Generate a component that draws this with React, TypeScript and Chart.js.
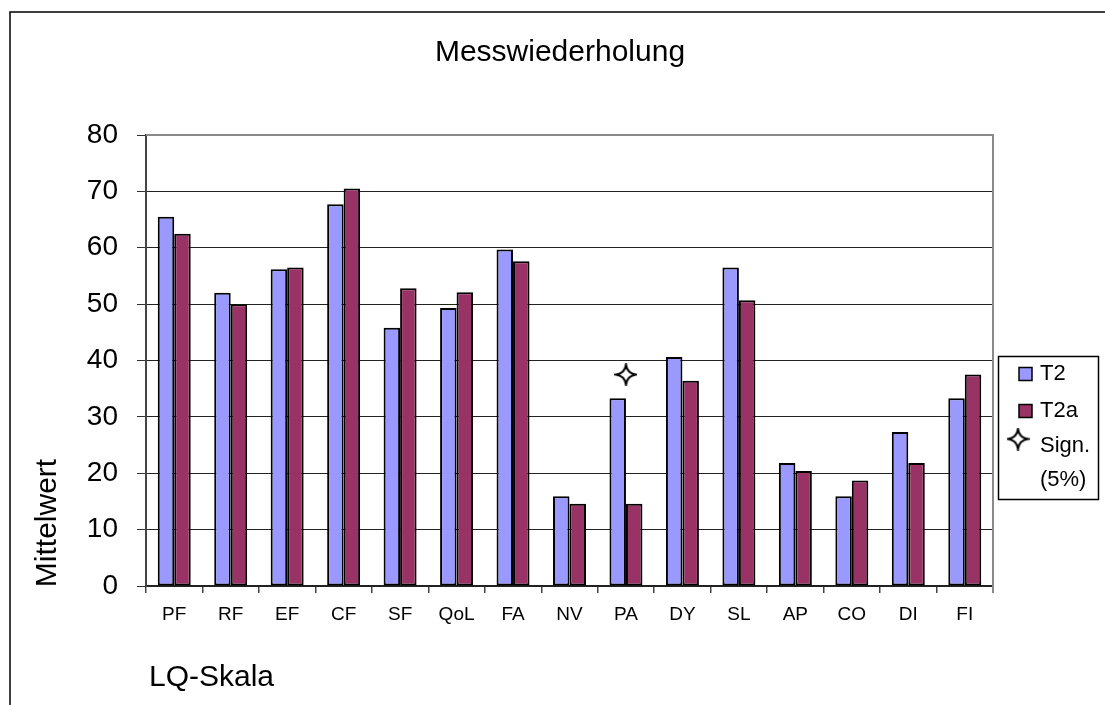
import React, { useEffect, useRef } from "react";
import { Chart, registerables } from "chart.js";

Chart.register(...registerables);

const chartTitle = "Messwiederholung";
const yTitle = "Mittelwert";
const xTitle = "LQ-Skala";
const categories = ["PF", "RF", "EF", "CF", "SF", "QoL", "FA", "NV", "PA", "DY", "SL", "AP", "CO", "DI", "FI"];
const t2Values = [65.5, 52.0, 56.2, 67.7, 45.8, 49.3, 59.7, 15.9, 33.3, 40.6, 56.5, 21.8, 15.9, 27.3, 33.3];
const t2aValues = [62.5, 50.0, 56.5, 70.5, 52.8, 52.1, 57.6, 14.6, 14.6, 36.4, 50.7, 20.4, 18.7, 21.8, 37.5];
const signValues = [null, null, null, null, null, null, null, null, 37.5, null, null, null, null, null, null];
const seriesLabels = ["T2", "T2a", "Sign. (5%)"];
const yMin = 0;
const yMax = 80;
const yStep = 10;

const FONT = "'Liberation Sans', Arial, sans-serif";
const BLUE = "#9999FF";
const MAROON = "#993366";

function makeStar(size: number): HTMLCanvasElement {
  const c = document.createElement("canvas");
  c.width = size;
  c.height = size;
  const g = c.getContext("2d")!;
  const m = size / 2;
  const r = size / 2 - 1.5;
  const k = r * 0.12;
  g.beginPath();
  g.moveTo(m, m - r);
  g.quadraticCurveTo(m + k, m - k, m + r, m);
  g.quadraticCurveTo(m + k, m + k, m, m + r);
  g.quadraticCurveTo(m - k, m + k, m - r, m);
  g.quadraticCurveTo(m - k, m - k, m, m - r);
  g.closePath();
  g.fillStyle = "#fff";
  g.fill();
  g.lineWidth = 2;
  g.strokeStyle = "#000";
  g.stroke();
  return c;
}

export default function App() {
  const ref = useRef<HTMLCanvasElement | null>(null);

  useEffect(() => {
    if (!ref.current) return;
    const star = makeStar(23);

    const deco = {
      id: "deco",
      afterDraw(chart: any) {
        const ctx = chart.ctx as CanvasRenderingContext2D;
        const area = chart.chartArea;
        ctx.save();
        // outer frame
        ctx.strokeStyle = "#000";
        ctx.lineWidth = 1.5;
        ctx.beginPath();
        ctx.moveTo(10, 706);
        ctx.lineTo(10, 12);
        ctx.lineTo(1106, 12);
        ctx.stroke();
        // plot top & right border
        ctx.strokeStyle = "#8a8a8a";
        ctx.lineWidth = 2;
        ctx.beginPath();
        ctx.moveTo(area.left, area.top);
        ctx.lineTo(area.right, area.top);
        ctx.lineTo(area.right, area.bottom + 7);
        ctx.stroke();
        // title
        ctx.fillStyle = "#000";
        ctx.font = `30px ${FONT}`;
        ctx.textAlign = "center";
        ctx.textBaseline = "middle";
        ctx.fillText(chartTitle, 560, 53);
        // x title
        ctx.textAlign = "left";
        ctx.fillText(xTitle, 149, 678);
        // y title
        ctx.save();
        ctx.translate(48, 523);
        ctx.rotate(-Math.PI / 2);
        ctx.textAlign = "center";
        ctx.fillText(yTitle, 0, 0);
        ctx.restore();
        // legend
        const ds = chart.data.datasets;
        ctx.fillStyle = "#fff";
        ctx.fillRect(998, 356, 101, 144);
        ctx.strokeStyle = "#000";
        ctx.lineWidth = 1.5;
        ctx.strokeRect(998.5, 356.5, 100, 143);
        ctx.font = `22px ${FONT}`;
        ctx.textAlign = "left";
        ctx.textBaseline = "middle";
        const rows = [374, 411];
        for (let i = 0; i < 2; i++) {
          const y = rows[i];
          ctx.fillStyle = ds[i].backgroundColor;
          ctx.fillRect(1019, y - 6.5, 13, 13);
          ctx.strokeStyle = "#000";
          ctx.lineWidth = 1.5;
          ctx.strokeRect(1019, y - 6.5, 13, 13);
          ctx.fillStyle = "#000";
          ctx.fillText(ds[i].label, 1040, y);
        }
        ctx.drawImage(star, 1018 - star.width / 2, 439 - star.height / 2);
        const parts = String(ds[2].label).split(" ");
        ctx.fillStyle = "#000";
        ctx.fillText(parts[0], 1040, 446);
        ctx.fillText(parts.slice(1).join(" "), 1040, 480);
        ctx.restore();
      },
    };

    const chart = new Chart(ref.current, {
      type: "bar",
      data: {
        labels: categories,
        datasets: [
          {
            label: seriesLabels[0],
            data: t2Values,
            backgroundColor: BLUE,
            borderColor: "#000",
            borderWidth: 2,
            borderSkipped: false,
            categoryPercentage: 0.584,
            barPercentage: 1.0,
            order: 2,
          },
          {
            label: seriesLabels[1],
            data: t2aValues,
            backgroundColor: MAROON,
            borderColor: "#000",
            borderWidth: 2,
            borderSkipped: false,
            categoryPercentage: 0.584,
            barPercentage: 1.0,
            order: 2,
          },
          {
            type: "line",
            label: seriesLabels[2],
            data: signValues,
            showLine: false,
            pointStyle: star,
            pointRadius: 10,
            order: 1,
          } as any,
        ],
      },
      options: {
        animation: false,
        responsive: false,
        maintainAspectRatio: false,
        layout: { padding: { top: 135, right: 112, left: 0, bottom: 0 } },
        plugins: {
          legend: { display: false },
          tooltip: { enabled: false },
          title: { display: false },
        },
        scales: {
          x: {
            offset: true,
            afterFit: (s: any) => {
              s.height = 119;
            },
            grid: {
              offset: true,
              drawOnChartArea: false,
              drawTicks: true,
              tickLength: 7,
              tickColor: "#444",
              lineWidth: 1.5,
            },
            border: { color: "#222", width: 1.5 },
            ticks: {
              color: "#000",
              font: { family: FONT, size: 19 },
              padding: 10,
              maxRotation: 0,
              autoSkip: false,
            },
          },
          y: {
            min: yMin,
            max: yMax,
            afterFit: (s: any) => {
              s.width = 146;
            },
            grid: {
              color: (c: any) => (c.tick && c.tick.value === yMax ? "rgba(0,0,0,0)" : "#222"),
              lineWidth: 1,
              tickLength: 9,
              tickColor: "#333",
            },
            border: { color: "#444", width: 2 },
            ticks: {
              stepSize: yStep,
              color: "#000",
              font: { family: FONT, size: 28 },
              padding: 19,
            },
          },
        },
      },
      plugins: [deco],
    } as any);

    return () => chart.destroy();
  }, []);

  return (
    <div style={{ position: "fixed", left: 0, top: 0, width: 1105, height: 705, background: "#fff" }}>
      <canvas ref={ref} width={1105} height={705} style={{ display: "block" }} />
    </div>
  );
}
